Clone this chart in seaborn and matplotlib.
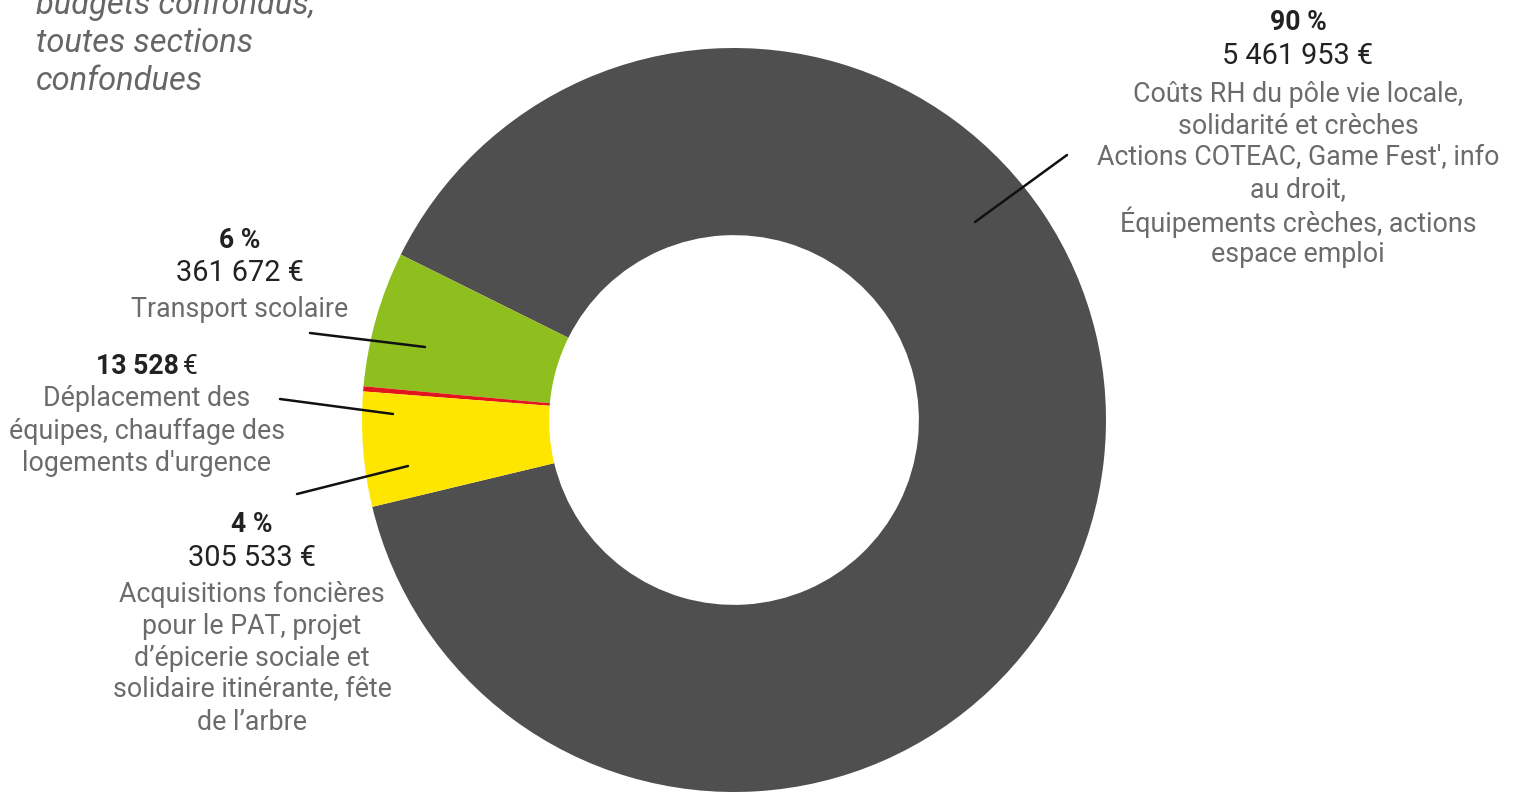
import matplotlib
matplotlib.use("Agg")
import matplotlib.pyplot as plt
from matplotlib.lines import Line2D
import seaborn as sns

# Budget breakdown (all budgets, all sections)
categories = [
    "Coûts RH et actions vie locale",
    "Transport scolaire",
    "Déplacement / chauffage",
    "Acquisitions foncières / épicerie",
]
amounts = [5461953, 361672, 13528, 305533]
percent_labels = ["90 %", "6 %", None, "4 %"]
amount_labels = ["5 461 953 €", "361 672 €", "13 528", "305 533 €"]
descriptions = [
    ["Coûts RH du pôle vie locale,", "solidarité et crèches",
     "Actions COTEAC, Game Fest', info", "au droit,",
     "Équipements crèches, actions", "espace emploi"],
    ["Transport scolaire"],
    ["Déplacement des", "équipes, chauffage des", "logements d'urgence"],
    ["Acquisitions foncières", "pour le PAT, projet", "d’épicerie sociale et",
     "solidaire itinérante, fête", "de l’arbre"],
]
title_lines = ["budgets confondus,", "toutes sections", "confondues"]
colors = ["#4f4f4f", "#8fbe1f", "#e2141c", "#ffe600"]

sns.set_theme(style="white")
plt.rcParams["font.family"] = ["Roboto", "DejaVu Sans"]

W, H = 1515, 794
fig = plt.figure(figsize=(W / 100, H / 100), dpi=100)
fig.patch.set_facecolor("white")


def fx(x):
    return x / W


def fy(y):
    return 1 - y / H


# Donut
cx, cy, R = 734, 420, 372
ax = fig.add_axes([fx(cx - R), fy(cy + R), 2 * R / W, 2 * R / H])
ax.pie(amounts, colors=colors, startangle=193.5, counterclock=True,
       radius=1.0, wedgeprops=dict(width=0.503, edgecolor="none", linewidth=0))
ax.set_xlim(-1, 1)
ax.set_ylim(-1, 1)
ax.set_aspect("equal")
ax.axis("off")

dark = "#222222"
grey = "#6b6b6b"
PCT, AMT, DESC = 19.2, 20.8, 19.3


def put(x, y, s, size, color, weight="normal", ha="center", style="normal"):
    fig.text(fx(x), fy(y), s, fontsize=size, color=color, fontweight=weight,
             ha=ha, va="center", fontstyle=style)


def block(x, y0, pct, amt, desc, step=32.0, gap=36):
    y = y0
    if pct:
        put(x, y, pct, PCT, dark, weight="bold")
        y += 33
    put(x, y, amt, AMT, dark)
    y += gap
    for line in desc:
        put(x, y, line, DESC, grey)
        y += step


block(1298, 23, percent_labels[0], amount_labels[0], descriptions[0], gap=38)
block(240, 240, percent_labels[1], amount_labels[1], descriptions[1])
block(252, 525, percent_labels[3], amount_labels[3], descriptions[3])

# Small slice label: bold amount, regular euro sign
put(179, 366, amount_labels[2], PCT, dark, weight="bold", ha="right")
put(183, 366, "€", PCT, dark, ha="left")
for i, line in enumerate(descriptions[2]):
    put(147, 399 + i * 32, line, DESC, grey)

# Leader lines
leaders = [
    ((975, 222), (1067, 155)),
    ((310, 333), (425, 347)),
    ((280, 399), (393, 414)),
    ((297, 494), (408, 466)),
]
for (x0, y0), (x1, y1) in leaders:
    fig.add_artist(Line2D([fx(x0), fx(x1)], [fy(y0), fy(y1)],
                          color="#111111", linewidth=1.8,
                          transform=fig.transFigure))

# Subtitle, top left
for i, line in enumerate(title_lines):
    fig.text(fx(36), fy(5 + i * 38), line, fontsize=23.5, color="#666666",
             fontstyle="italic", ha="left", va="center")

fig.savefig("out.png", dpi=100, facecolor="white")
